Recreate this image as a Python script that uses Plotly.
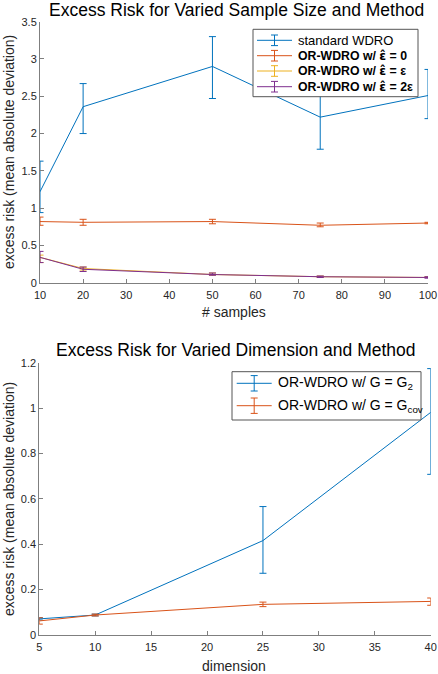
import plotly.graph_objects as go

# top panel: excess risk vs number of samples
n_samples = [10, 20, 50, 75, 100]
std_mean = [1.22, 2.36, 2.90, 2.22, 2.51]
std_hi = [1.63, 2.67, 3.30, 2.66, 2.86]
std_lo = [0.94, 2.00, 2.47, 1.79, 2.20]
or0_mean = [0.82, 0.81, 0.82, 0.77, 0.80]
or0_hi = [0.88, 0.85, 0.85, 0.80, 0.81]
or0_lo = [0.77, 0.77, 0.79, 0.75, 0.79]
ore_mean = [0.34, 0.19, 0.11, 0.08, 0.07]
ore_hi = [0.37, 0.21, 0.13, 0.09, 0.08]
ore_lo = [0.27, 0.17, 0.10, 0.07, 0.07]
or2e_mean = [0.34, 0.18, 0.11, 0.08, 0.07]
or2e_hi = [0.42, 0.21, 0.13, 0.09, 0.08]
or2e_lo = [0.27, 0.15, 0.10, 0.07, 0.06]

# bottom panel: excess risk vs dimension
dims = [5, 10, 25, 40]
g2_mean = [0.071, 0.088, 0.416, 0.981]
g2_hi = [0.076, 0.092, 0.566, 1.174]
g2_lo = [0.066, 0.084, 0.272, 0.708]
gcov_mean = [0.062, 0.088, 0.135, 0.148]
gcov_hi = [0.076, 0.092, 0.145, 0.163]
gcov_lo = [0.048, 0.084, 0.125, 0.131]

BLUE = "#0072BD"
ORANGE = "#D95319"
YELLOW = "#EDB120"
PURPLE = "#7E2F8E"
FONT = "Liberation Sans"
AXCOL = "#7f7f7f"
TXT = "#262626"
W, H = 438, 674
EPS_HAT = '<span style="font-family:DejaVu Sans">ε̂</span>'

top_names = ["standard WDRO",
             f"<b>OR-WDRO w/ {EPS_HAT} = 0</b>",
             f"<b>OR-WDRO w/ {EPS_HAT} = ε</b>",
             f"<b>OR-WDRO w/ {EPS_HAT} = 2ε</b>"]
top_sizes = [13, 12.3, 12.3, 12.3]
bottom_names = ["OR-WDRO w/ G = G<sub>2</sub>", "OR-WDRO w/ G = G<sub>cov</sub>"]
bottom_sizes = [14, 14]


def err_trace(x, mean, hi, lo, name, color, xa, ya):
    return go.Scatter(
        x=x, y=mean, name=name, mode="lines",
        line=dict(color=color, width=1),
        error_y=dict(type="data", symmetric=False,
                     array=[h - m for h, m in zip(hi, mean)],
                     arrayminus=[m - l for m, l in zip(mean, lo)],
                     color=color, thickness=1, width=3.5),
        xaxis=xa, yaxis=ya, cliponaxis=False, showlegend=False,
    )


def px(x):
    return x / W


def py(y):
    return 1 - y / H


def text_at(text, x, y, size, angle=0, color=TXT, anchor="center"):
    # place a text in pixel coordinates of the page
    return dict(text=text, x=px(x), y=py(y), xref="paper", yref="paper",
                showarrow=False, xanchor=anchor, yanchor="middle", textangle=angle,
                font=dict(family=FONT, size=size, color=color))


def seg(x0, y0, x1, y1, color, width=1):
    return dict(type="line", xref="paper", yref="paper",
                x0=px(x0), y0=py(y0), x1=px(x1), y1=py(y1),
                line=dict(color=color, width=width))


def box(x0, y0, x1, y1):
    return dict(type="rect", xref="paper", yref="paper",
                x0=px(x0), y0=py(y0), x1=px(x1), y1=py(y1),
                line=dict(color="#555555", width=1), fillcolor="white", layer="above")


def legend_items(names, colors, sizes, rows, line_x, bar_half, text_x):
    # matlab-like legend: line with an error bar glyph, then the label
    shapes, notes = [], []
    for name, color, size, y in zip(names, colors, sizes, rows):
        xm = (line_x[0] + line_x[1]) / 2
        shapes.append(seg(line_x[0], y, line_x[1], y, color))
        shapes.append(seg(xm, y - bar_half, xm, y + bar_half, color))
        shapes.append(seg(xm - 3.5, y - bar_half, xm + 3.5, y - bar_half, color))
        shapes.append(seg(xm - 3.5, y + bar_half, xm + 3.5, y + bar_half, color))
        notes.append(text_at(name, text_x, y, size, color="#000000", anchor="left"))
    return shapes, notes


fig = go.Figure()
fig.add_trace(err_trace(n_samples, std_mean, std_hi, std_lo, top_names[0], BLUE, "x", "y"))
fig.add_trace(err_trace(n_samples, or0_mean, or0_hi, or0_lo, top_names[1], ORANGE, "x", "y"))
fig.add_trace(err_trace(n_samples, ore_mean, ore_hi, ore_lo, top_names[2], YELLOW, "x", "y"))
fig.add_trace(err_trace(n_samples, or2e_mean, or2e_hi, or2e_lo, top_names[3], PURPLE, "x", "y"))
fig.add_trace(err_trace(dims, g2_mean, g2_hi, g2_lo, bottom_names[0], BLUE, "x2", "y2"))
fig.add_trace(err_trace(dims, gcov_mean, gcov_hi, gcov_lo, bottom_names[1], ORANGE, "x2", "y2"))

axis_common = dict(
    showline=True, linecolor=AXCOL, linewidth=1, mirror=False, automargin=False,
    ticks="inside", ticklen=4, tickcolor=AXCOL, showgrid=False, zeroline=False,
    tickfont=dict(family=FONT, size=11, color=TXT),
)

sh1, an1 = legend_items(top_names, [BLUE, ORANGE, YELLOW, PURPLE], top_sizes,
                        [40.3, 55.7, 71.0, 86.7], (257, 292), 5.3, 296)
sh2, an2 = legend_items(bottom_names, [BLUE, ORANGE], bottom_sizes,
                        [383.3, 405.7], (236.7, 271.7), 7.7, 276)

fig.update_layout(
    width=W, height=H,
    margin=dict(l=0, r=0, t=0, b=0),
    paper_bgcolor="white", plot_bgcolor="white",
    font=dict(family=FONT, color=TXT),
    xaxis=dict(axis_common, domain=[px(40), px(428)], range=[10, 100], dtick=10, anchor="y",
               ticklabelstandoff=2),
    yaxis=dict(axis_common, domain=[py(282.7), py(21.7)], range=[0, 3.5], dtick=0.5, anchor="x"),
    xaxis2=dict(axis_common, domain=[px(39.3), px(430.7)], range=[5, 40], dtick=5, anchor="y2",
                ticklabelstandoff=2),
    yaxis2=dict(axis_common, domain=[py(635), py(362.7)], range=[0, 1.2], dtick=0.2, anchor="x2"),
    showlegend=False,
    shapes=[box(253, 29.3, 418, 96.7)] + sh1 + [box(232, 371.7, 421, 420)] + sh2,
    annotations=[
        text_at("Excess Risk for Varied Sample Size and Method", 236, 9.5, 17.5, color="#000000"),
        text_at("Excess Risk for Varied Dimension and Method", 236, 350, 17.5, color="#000000"),
        text_at("# samples", 234, 312, 14),
        text_at("dimension", 234, 666, 14),
        text_at("excess risk (mean absolute deviation)", 9, 152, 14, angle=-90),
        text_at("excess risk (mean absolute deviation)", 9, 499, 14, angle=-90),
    ] + an1 + an2,
)

# the page keeps the browser's default body margin, drop it so the figure fills the window
fig.write_html("out.html", config={"displayModeBar": False},
               post_script="document.body.style.margin='0';document.body.style.overflow='hidden';")
